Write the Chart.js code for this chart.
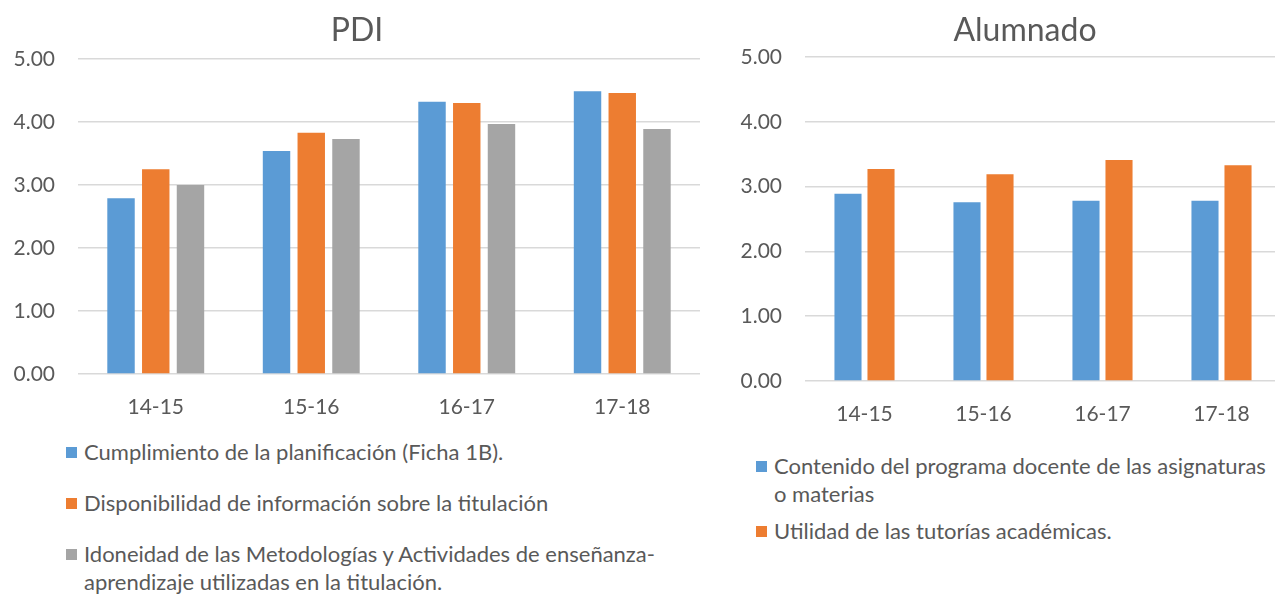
<!DOCTYPE html>
<html>
<head>
<meta charset="utf-8">
<script src="https://cdn.jsdelivr.net/npm/chart.js@4"></script>
<style>
  body { margin: 0; width: 1275px; height: 596px; overflow: hidden; background: #fff; font-family: Lato, sans-serif; color: #595959; }
  canvas { position: absolute; top: 0; }
  #pdiChart { left: 0; }
  #alumChart { left: 700px; }
  .legend { position: absolute; font-size: 22px; line-height: 28px; }
  .legend .item { position: relative; padding-left: 18px; }
  .legend .box { position: absolute; left: 0; top: 9px; width: 11px; height: 11px; }
  #pdiLegend { left: 66px; top: 438px; width: 625px; }
  #pdiLegend .item { margin-bottom: 23px; }
  #alumLegend { left: 756px; top: 452px; width: 526px; }
  #alumLegend .item { margin-bottom: 9px; }
</style>
</head>
<body>
<canvas id="pdiChart" width="700" height="420"></canvas>
<canvas id="alumChart" width="581" height="425"></canvas>
<div id="pdiLegend" class="legend"></div>
<div id="alumLegend" class="legend"></div>
<script>
// courses
const categories = ["14-15", "15-16", "16-17", "17-18"]

// PDI series
const pdiCumplimiento = [2.79, 3.54, 4.32, 4.49]
const pdiDisponibilidad = [3.25, 3.83, 4.30, 4.46]
const pdiIdoneidad = [3.00, 3.73, 3.97, 3.89]

// Alumnado series
const alumContenido = [2.89, 2.76, 2.78, 2.78]
const alumTutorias = [3.27, 3.19, 3.41, 3.33]

const yTicks = [0, 1, 2, 3, 4, 5]

const blue = "#5B9BD5", orange = "#ED7D31", gray = "#A5A5A5"
const textColor = "#595959"

const pdiSeries = [
    { label: "Cumplimiento de la planificación (Ficha 1B).", data: pdiCumplimiento, color: blue },
    { label: "Disponibilidad de información sobre la titulación", data: pdiDisponibilidad, color: orange },
    { label: "Idoneidad de las Metodologías y Actividades de enseñanza-aprendizaje utilizadas en la titulación.", data: pdiIdoneidad, color: gray }
]
const alumSeries = [
    { label: "Contenido del programa docente de las asignaturas o materias", data: alumContenido, color: blue },
    { label: "Utilidad de las tutorías académicas.", data: alumTutorias, color: orange }
]

// title drawn centred on the whole excel chart object, not on the canvas
const titlePlugin = {
    id: "excelTitle",
    afterDraw: (chart, args, opts) => {
        let ctx = chart.ctx
        ctx.save()
        ctx.fillStyle = textColor
        ctx.font = "32px Lato"
        ctx.textAlign = "center"
        ctx.textBaseline = "middle"
        ctx.fillText(opts.text, opts.x, opts.y)
        ctx.restore()
    }
}

CreateChart = (canvasId, title, series, opts) => {
    new Chart(canvasId, {
        type: "bar",
        data: {
            labels: categories,
            datasets: series.map(s => ({
                label: s.label,
                data: s.data,
                backgroundColor: s.color,
                barPercentage: opts.barPct,
                categoryPercentage: opts.catPct
            }))
        },
        plugins: [titlePlugin],
        options: {
            responsive: false,
            animation: false,
            layout: { padding: { left: 0, right: 0, top: opts.top, bottom: 0 } },
            plugins: {
                legend: { display: false },
                tooltip: { enabled: false },
                title: { display: false },
                excelTitle: { text: title, x: opts.titleX, y: 31 }
            },
            scales: {
                x: {
                    grid: { display: false, drawTicks: false },
                    border: { display: false },
                    ticks: { color: textColor, font: { family: "Lato", size: 21 }, padding: opts.xPad },
                    afterFit: s => { s.height = opts.xHeight }
                },
                y: {
                    min: 0,
                    max: 5,
                    afterBuildTicks: s => { s.ticks = yTicks.map(v => ({ value: v })) },
                    grid: { color: "#D9D9D9", lineWidth: 1.5, drawTicks: false, tickLength: 0 },
                    border: { display: false },
                    ticks: {
                        color: textColor,
                        font: { family: "Lato", size: 21 },
                        padding: 23,
                        callback: v => Number(v).toFixed(2)
                    },
                    afterFit: s => { s.width = opts.yWidth }
                }
            }
        }
    })
}

RenderLegend = (divId, series) => {
    let div = document.getElementById(divId)
    series.forEach(s => {
        div.innerHTML += `<div class="item"><span class="box" style="background:${s.color}"></span>${s.label}</div>`
    })
}

CreateChart("pdiChart", "PDI", pdiSeries,
    { top: 59, titleX: 357, yWidth: 78, xHeight: 46, xPad: 21, barPct: 0.79, catPct: 0.67 })
CreateChart("alumChart", "Alumnado", alumSeries,
    { top: 57, titleX: 325, yWidth: 105, xHeight: 44, xPad: 21, barPct: 0.82, catPct: 0.555 })

RenderLegend("pdiLegend", pdiSeries)
RenderLegend("alumLegend", alumSeries)
</script>
</body>
</html>
